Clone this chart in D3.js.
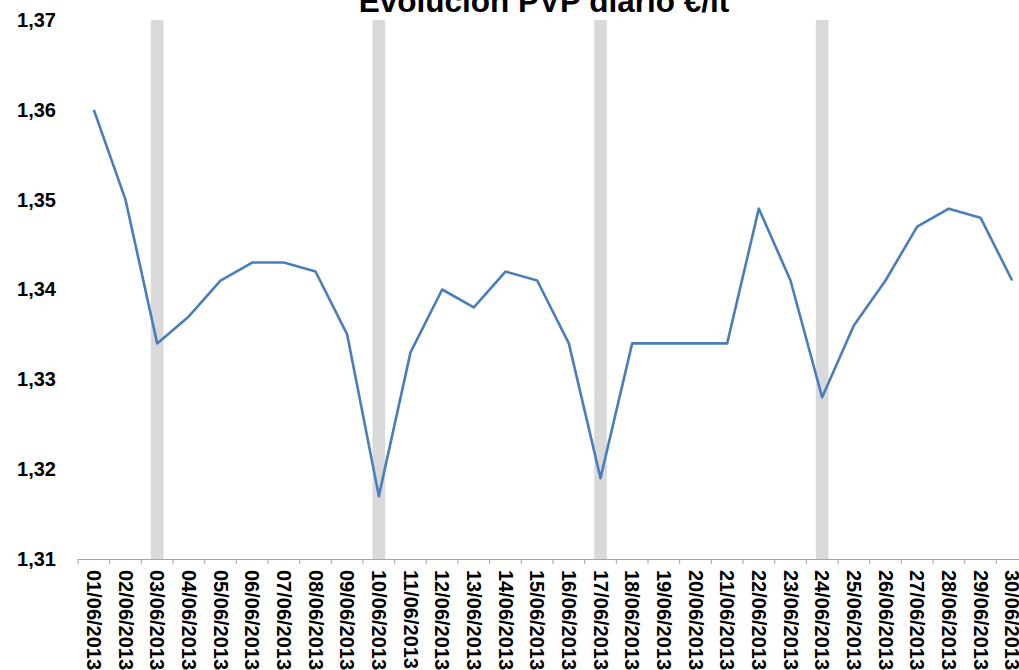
<!DOCTYPE html>
<html>
<head>
<meta charset="utf-8">
<script src="https://cdn.jsdelivr.net/npm/d3@7"></script>
<style>
  body { margin: 0; background: #fff; overflow: hidden; }
  svg { display: block; font-family: Arial, "Liberation Sans", sans-serif; }
</style>
</head>
<body>
<div id="chart"></div>
<script>
// daily dates, June 2013
const dates = ['01/06/2013','02/06/2013','03/06/2013','04/06/2013','05/06/2013','06/06/2013',
  '07/06/2013','08/06/2013','09/06/2013','10/06/2013','11/06/2013','12/06/2013','13/06/2013',
  '14/06/2013','15/06/2013','16/06/2013','17/06/2013','18/06/2013','19/06/2013','20/06/2013',
  '21/06/2013','22/06/2013','23/06/2013','24/06/2013','25/06/2013','26/06/2013','27/06/2013',
  '28/06/2013','29/06/2013','30/06/2013']
// PVP €/lt
const pvp = [1.360,1.350,1.334,1.337,1.341,1.343,1.343,1.342,1.335,1.317,1.333,1.340,1.338,
  1.342,1.341,1.334,1.319,1.334,1.334,1.334,1.334,1.349,1.341,1.328,1.336,1.341,1.347,
  1.349,1.348,1.341]
// grey columns (mondays)
const mondays = ['03/06/2013','10/06/2013','17/06/2013','24/06/2013']
const mondayValue = 1.37
const yTicks = [1.31,1.32,1.33,1.34,1.35,1.36,1.37]
const title = 'Evolución PVP diario €/lt'

const width = 1019
const height = 670
const padding = { top: 20, left: 78, bottom: 111 }
const plotRight = 1028

const svg = d3.select('#chart').append('svg').attr('width', width).attr('height', height)

const xScale = d3.scaleBand().domain(dates).range([padding.left, plotRight])
const yScale = d3.scaleLinear().domain([1.31, 1.37]).range([height - padding.bottom, padding.top])
const fmt = d => d3.format('.2f')(d).replace('.', ',')

// grey columns
svg.append('g')
  .selectAll('rect')
  .data(mondays)
  .enter()
  .append('rect')
  .attr('x', d => xScale(d) + xScale.bandwidth() * 0.3)
  .attr('width', xScale.bandwidth() * 0.4)
  .attr('y', yScale(mondayValue))
  .attr('height', d => yScale(1.31) - yScale(mondayValue))
  .attr('fill', '#d9d9d9')

// x axis
const xAxis = svg.append('g')
  .attr('transform', 'translate(0,' + yScale(1.31) + ')')
  .call(d3.axisBottom(xScale).tickSize(0).tickPadding(0))
xAxis.select('.domain').attr('stroke', '#a6a6a6').attr('stroke-width', 1.2)
xAxis.selectAll('.tick line').remove()
xAxis.selectAll('.tick text')
  .attr('transform', 'rotate(90)')
  .attr('x', 11)
  .attr('y', 0)
  .attr('dy', '0.35em')
  .attr('text-anchor', 'start')
  .attr('font-size', 20)
  .attr('font-weight', 'bold')
  .attr('font-family', 'Arial, "Liberation Sans", sans-serif')
  .attr('fill', '#000')

// category boundary ticks
xAxis.selectAll('line.bound')
  .data(dates.concat(['end']))
  .enter()
  .append('line')
  .attr('class', 'bound')
  .attr('x1', (d, i) => padding.left + i * xScale.step())
  .attr('x2', (d, i) => padding.left + i * xScale.step())
  .attr('y1', 0)
  .attr('y2', 5)
  .attr('stroke', '#a6a6a6')

// y axis labels (no line)
const yAxis = svg.append('g')
  .attr('transform', 'translate(' + 56 + ',0)')
  .call(d3.axisLeft(yScale).tickValues(yTicks).tickFormat(fmt).tickSize(0).tickPadding(0))
yAxis.select('.domain').remove()
yAxis.selectAll('.tick text')
  .attr('font-size', 20)
  .attr('font-weight', 'bold')
  .attr('font-family', 'Arial, "Liberation Sans", sans-serif')
  .attr('fill', '#000')

// line
const lineFunction = d3.line()
  .x(d => xScale(d[0]) + xScale.bandwidth() / 2)
  .y(d => yScale(d[1]))
svg.append('path')
  .datum(dates.map((d, i) => [d, pvp[i]]))
  .attr('fill', 'none')
  .attr('stroke', '#4a7ebb')
  .attr('stroke-width', 2.6)
  .attr('stroke-linejoin', 'round')
  .attr('d', lineFunction)

// title
svg.append('text')
  .attr('x', 544)
  .attr('y', 12)
  .attr('text-anchor', 'middle')
  .attr('font-size', 31.5)
  .attr('font-weight', 'bold')
  .attr('fill', '#000')
  .text(title)
</script>
</body>
</html>
